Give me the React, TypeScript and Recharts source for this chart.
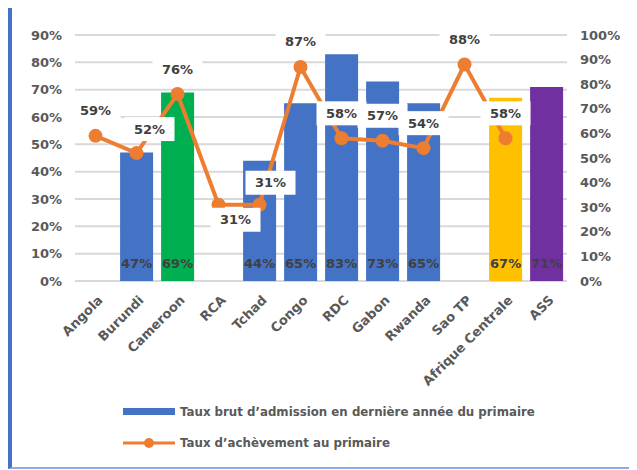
import React from "react";
import {
  ComposedChart,
  Bar,
  Line,
  XAxis,
  YAxis,
  CartesianGrid,
  Legend,
  LabelList,
  Cell,
} from "recharts";

const categories = [
  "Angola",
  "Burundi",
  "Cameroon",
  "RCA",
  "Tchad",
  "Congo",
  "RDC",
  "Gabon",
  "Rwanda",
  "Sao TP",
  "Afrique Centrale",
  "ASS",
];
const admissionRate = [null, 47, 69, null, 44, 65, 83, 73, 65, null, 67, 71];
const completionRate = [59, 52, 76, 31, 31, 87, 58, 57, 54, 88, 58, null];
const leftTicks = [0, 10, 20, 30, 40, 50, 60, 70, 80, 90];
const rightTicks = [0, 10, 20, 30, 40, 50, 60, 70, 80, 90, 100];

const barName = "Taux brut d\u2019admission en derni\u00e8re ann\u00e9e du primaire";
const lineName = "Taux d\u2019ach\u00e8vement au primaire";

const FONT = "'DejaVu Sans', Verdana, sans-serif";
const BLUE = "#4472C4";
const ORANGE = "#ED7D31";

// special bar colours for a few categories
const barColors: Record<string, string> = {
  Cameroon: "#00B050",
  "Afrique Centrale": "#FFC000",
  ASS: "#7030A0",
};

// where line labels sit relative to their point (default: above)
const labelShift: Record<string, [number, number]> = {
  Burundi: [13, -24],
  RCA: [17, 15],
  Tchad: [11, -22],
};

const data = categories.map((name, i) => ({
  name,
  admission: admissionRate[i],
  completion: completionRate[i],
}));

const XTick = (props: any) => {
  const { x, y, payload } = props;
  return (
    <g transform={`translate(${x + 8},${y + 12})`}>
      <text
        textAnchor="end"
        transform="rotate(-45)"
        fill="#595959"
        fontSize={13}
        fontWeight="bold"
        fontFamily={FONT}
      >
        {payload.value}
      </text>
    </g>
  );
};

const renderBarLabel = (props: any) => {
  const { x, y, width, height, value } = props;
  if (value == null) return null;
  return (
    <text
      x={x + width / 2}
      y={y + height - 18}
      textAnchor="middle"
      dominantBaseline="central"
      fill="#404040"
      fontSize={13}
      fontWeight="bold"
      fontFamily={FONT}
    >
      {value}%
    </text>
  );
};

const renderLineLabel = (props: any) => {
  const { x, y, value, index } = props;
  if (value == null) return null;
  const [dx, dy] = labelShift[categories[index]] ?? [0, -25];
  const cx = x + dx;
  const cy = y + dy;
  return (
    <g>
      <rect x={cx - 25} y={cy - 12} width={50} height={24} fill="#ffffff" />
      <text
        x={cx}
        y={cy}
        textAnchor="middle"
        dominantBaseline="central"
        fill="#404040"
        fontSize={13}
        fontWeight="bold"
        fontFamily={FONT}
      >
        {value}%
      </text>
    </g>
  );
};

const renderLegend = () => (
  <div
    style={{
      fontFamily: FONT,
      fontWeight: "bold",
      fontSize: 11.8,
      color: "#595959",
      whiteSpace: "nowrap",
    }}
  >
    <div style={{ display: "flex", alignItems: "center", height: 20 }}>
      <svg width={57} height={10}>
        <rect x={0} y={1} width={52} height={7} fill={BLUE} />
      </svg>
      <span>{barName}</span>
    </div>
    <div
      style={{ display: "flex", alignItems: "center", height: 20, marginTop: 11 }}
    >
      <svg width={57} height={12}>
        <line x1={0} y1={6} x2={52} y2={6} stroke={ORANGE} strokeWidth={3} />
        <circle cx={26} cy={6} r={5} fill={ORANGE} />
      </svg>
      <span>{lineName}</span>
    </div>
  </div>
);

const tickStyle = {
  fill: "#595959",
  fontSize: 13,
  fontWeight: "bold",
  fontFamily: FONT,
};

export default function App() {
  return (
    <div
      style={{
        marginTop: -5,
        width: 628,
        height: 466,
        boxSizing: "border-box",
        borderTop: `4px solid ${BLUE}`,
        borderLeft: `4px solid ${BLUE}`,
        borderRight: "2px solid #7f9fd8",
        borderBottom: "2px solid #8faadc",
        background: "#fff",
        fontFamily: FONT,
      }}
    >
      <ComposedChart
        width={622}
        height={459}
        data={data}
        margin={{ top: 28, right: 0, left: 0, bottom: 105 }}
        barCategoryGap="10%"
      >
        <CartesianGrid
          yAxisId="left"
          vertical={false}
          stroke="#d9d9d9"
          strokeWidth={2}
        />
        <XAxis
          dataKey="name"
          interval={0}
          axisLine={false}
          tickLine={false}
          height={80}
          tick={<XTick />}
        />
        <YAxis
          yAxisId="left"
          orientation="left"
          width={63}
          domain={[0, 90]}
          ticks={leftTicks}
          tickFormatter={(v) => `${v}%`}
          axisLine={false}
          tickLine={false}
          tickMargin={7}
          tick={tickStyle}
        />
        <YAxis
          yAxisId="right"
          orientation="right"
          width={67}
          domain={[0, 100]}
          ticks={rightTicks}
          tickFormatter={(v) => `${v}%`}
          axisLine={false}
          tickLine={false}
          tickMargin={7}
          tick={{ ...tickStyle, textAnchor: "start" }}
        />
        <Legend
          layout="vertical"
          verticalAlign="middle"
          align="center"
          wrapperStyle={{ left: 111, top: 395, width: "auto" }}
          content={renderLegend}
        />
        <Bar
          yAxisId="left"
          dataKey="admission"
          name={barName}
          fill={BLUE}
          isAnimationActive={false}
        >
          {data.map((d, i) => (
            <Cell key={`cell-${i}`} fill={barColors[d.name] ?? BLUE} />
          ))}
          <LabelList dataKey="admission" content={renderBarLabel} />
        </Bar>
        <Line
          yAxisId="right"
          dataKey="completion"
          name={lineName}
          stroke={ORANGE}
          strokeWidth={4}
          dot={{ r: 7, fill: ORANGE, stroke: ORANGE, strokeWidth: 0 }}
          activeDot={false}
          isAnimationActive={false}
        >
          <LabelList dataKey="completion" content={renderLineLabel} />
        </Line>
      </ComposedChart>
    </div>
  );
}
